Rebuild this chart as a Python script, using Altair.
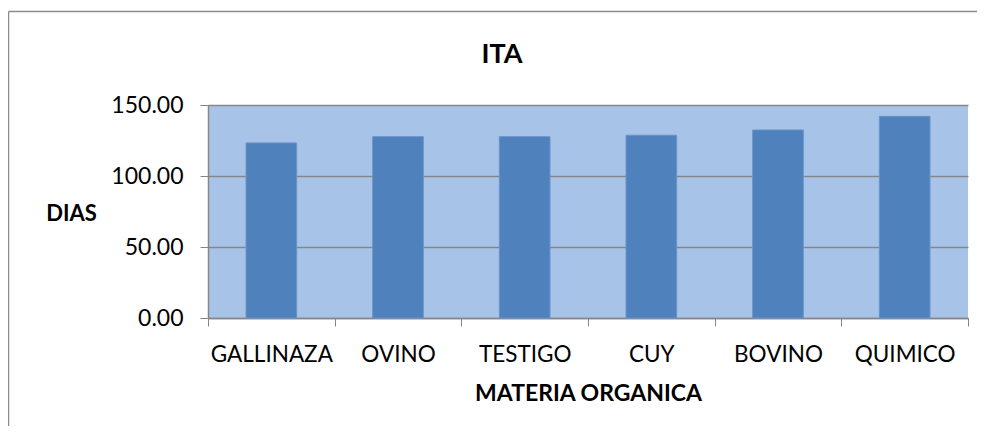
import altair as alt
import pandas as pd

categories = ["GALLINAZA", "OVINO", "TESTIGO", "CUY", "BOVINO", "QUIMICO"]
values = [123.3, 127.7, 127.7, 128.7, 132.4, 142.0]
y_ticks = [0, 50, 100, 150]
chart_title = ["ITA"]

df = pd.DataFrame({"cat": categories, "val": values})
title_df = pd.DataFrame({"t": chart_title})
frame_df = pd.DataFrame({"k": [0]})

FONT = "Lato"
GRAY = "#868686"
FRAME = "#8C8C8C"
W, H = 760, 213

bars = alt.Chart(df).mark_bar(
    width=alt.RelativeBandSize(0.4), color="#4F81BD", stroke="#6A94C9", strokeWidth=1
).encode(
    x=alt.X(
        "cat:N",
        sort=categories,
        scale=alt.Scale(paddingInner=0, paddingOuter=0),
        axis=alt.Axis(
            title="MATERIA ORGANICA",
            labelAngle=0,
            tickBand="extent",
            tickSize=8,
            tickColor=GRAY,
            domainColor=GRAY,
            domainWidth=1.5,
            grid=False,
            labelFont=FONT,
            labelFontSize=22.5,
            labelColor="black",
            labelPadding=17,
            titleFont=FONT,
            titleFontSize=23,
            titleFontWeight="bold",
            titleColor="black",
            titleY=75,
            titleBaseline="middle",
        ),
    ),
    y=alt.Y(
        "val:Q",
        scale=alt.Scale(domain=[0, 150], nice=False),
        axis=alt.Axis(
            values=y_ticks,
            format=".2f",
            title="DIAS",
            titleAngle=0,
            titleX=-137,
            titleY=108,
            titleAlign="center",
            titleBaseline="middle",
            titleFont=FONT,
            titleFontSize=22,
            titleFontWeight="bold",
            titleColor="black",
            tickSize=8,
            tickColor=GRAY,
            domainColor=GRAY,
            domainWidth=1.5,
            grid=True,
            gridColor=GRAY,
            gridWidth=1.5,
            labelFont=FONT,
            labelFontSize=23,
            labelColor="black",
            labelPadding=17,
            labelBaseline="middle",
        ),
    ),
)

frame_top = alt.Chart(frame_df).mark_rule(color=FRAME, strokeWidth=1.5).encode(
    x=alt.value(-199.5), x2=alt.value(800), y=alt.value(-93.5)
)
frame_left = alt.Chart(frame_df).mark_rule(color=FRAME, strokeWidth=1.5).encode(
    x=alt.value(-199.5), y=alt.value(-93.5), y2=alt.value(400)
)

title = alt.Chart(title_df).mark_text(
    font=FONT, fontSize=27, fontWeight="bold", color="black",
    align="center", baseline="alphabetic"
).encode(
    text="t:N", x=alt.value(294), y=alt.value(-42)
)

chart = alt.layer(frame_top, frame_left, bars, title).properties(
    width=W,
    height=H,
    autosize=alt.AutoSizeParams(type="none"),
    padding={"left": 200, "top": 97, "right": 9, "bottom": 108},
    background="white",
).configure_view(fill="#A7C4E8", strokeWidth=0)

chart.save("out.html", embed_options={"renderer": "svg", "actions": False})
